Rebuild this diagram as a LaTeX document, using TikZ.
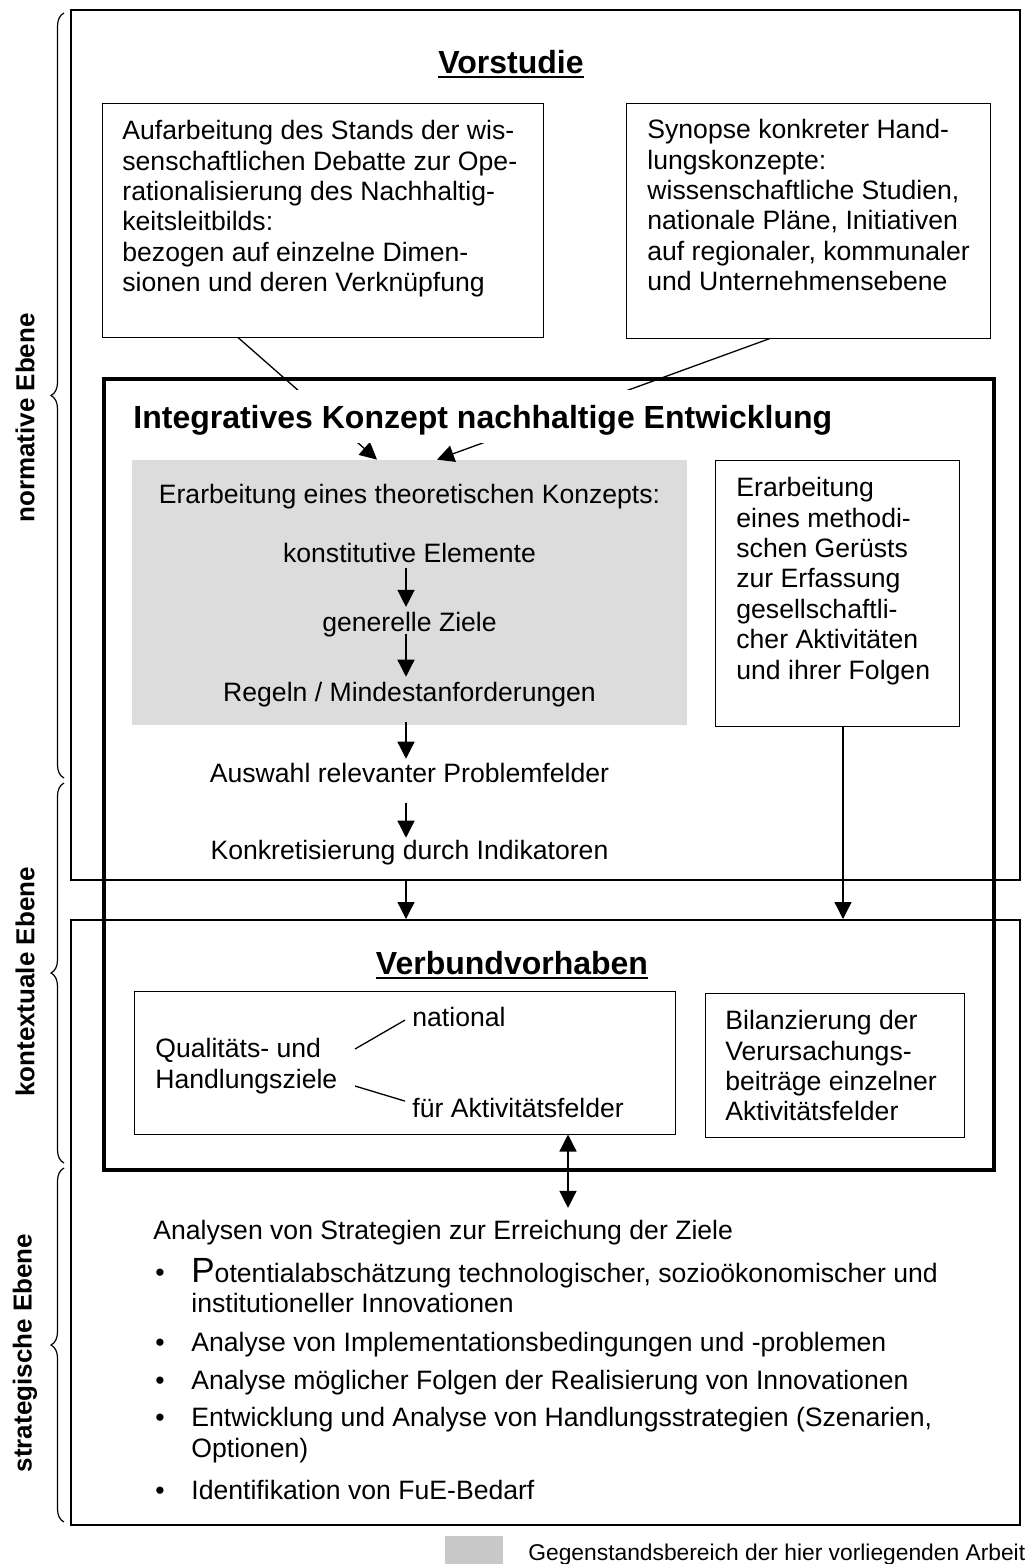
\documentclass[tikz,border=0pt]{standalone}
\usepackage{fontspec}
\setmainfont{Liberation Sans}
\usetikzlibrary{arrows.meta,fit,decorations.pathreplacing,calc}
\definecolor{grayfill}{RGB}{220,220,220}
\definecolor{legfill}{RGB}{200,200,200}
\newcommand\fbody{\fontsize{13.3}{15.2}\selectfont}
\newcommand\ftitle{\bfseries\fontsize{16}{19}\selectfont}
\newcommand\fside{\bfseries\fontsize{13}{15}\selectfont}
\newcommand\flegend{\fontsize{11.4}{14}\selectfont}
\tikzset{
  box/.style={draw, line width=0.5pt, inner sep=0pt},
  bigbox/.style={draw, line width=1pt, inner sep=0pt},
  thickbox/.style={draw, line width=1.6pt, inner sep=0pt},
  txt/.style={inner sep=0pt, font=\fbody, align=left},
  ttl/.style={inner sep=0pt, font=\ftitle},
  side/.style={inner sep=0pt, font=\fside, rotate=90},
  arr/.style={line width=0.65pt, -{Triangle[length=8.5pt,width=8.5pt]}},
  arrtwo/.style={line width=0.65pt, {Triangle[length=8.5pt,width=8.5pt]}-{Triangle[length=8.5pt,width=8.5pt]}},
  conn/.style={line width=0.65pt},
  bracestyle/.style={line width=0.6pt, decorate, decoration={brace, amplitude=6.5pt}},
}
\begin{document}
\begin{tikzpicture}[x=0.5pt,y=-0.5pt]
\useasboundingbox (0,0) rectangle (1024,1564);
\fill[white] (0,0) rectangle (1024,1564);

% main frames
\node[fit={(71,10)(1020,880)}, bigbox] (vor) {};
\node[fit={(71,920)(1020,1525)}, bigbox] (low) {};
\node[fit={(132,460)(687,725)}, fill=grayfill, inner sep=0pt] (gray) {};
\node[fit={(104,379)(994,1170)}, thickbox] (integ) {};

% inner boxes
\node[fit={(102,103)(543,337)}, box] (aufb) {};
\node[fit={(626,103)(990,338)}, box] (syn) {};
\node[fit={(715,460)(959,726)}, box] (meth) {};
\node[fit={(134,991)(675,1134)}, box] (qual) {};
\node[fit={(705,993)(964,1137)}, box] (bil) {};

% helper x positions
\coordinate (xa) at (238,0);
\coordinate (xb) at (377,0);
\coordinate (xc) at (770,0);
\coordinate (xd) at (437,0);
\coordinate (xarr) at (406,0);
\coordinate (xmeth) at (843,0);
\coordinate (xdbl) at (568,0);

% connectors from Vorstudie boxes (drawn before title so the title masks them)
\draw[arr] (aufb.south -| xa) -- (gray.north -| xb);
\draw[arr] (syn.south -| xc) -- (gray.north -| xd);

% titles
\node[ttl, anchor=base] (vst) at (511,73.5) {Vorstudie};
\draw[line width=1pt] ([yshift=-1.75pt]vst.base west) -- ([yshift=-1.75pt]vst.base east);
\node[ttl, anchor=base west, fill=white, text height=19.25pt, text depth=7.25pt] (ititle) at (133,428.5) {Integratives Konzept nachhaltige Entwicklung};
\node[ttl, anchor=base] (vbt) at (512,974.5) {Verbundvorhaben};
\draw[line width=1pt] ([yshift=-1.75pt]vbt.base west) -- ([yshift=-1.75pt]vbt.base east);

% Vorstudie box texts (base = baseline of last line)
\node[txt, anchor=base west] (aufbt) at (122,291.6) {Aufarbeitung des Stands der wis-\\senschaftlichen Debatte zur Ope-\\rationalisierung des Nachhaltig-\\keitsleitbilds:\\bezogen auf einzelne Dimen-\\sionen und deren Verknüpfung};
\node[txt, anchor=base west] (synt) at (647,290.6) {Synopse konkreter Hand-\\lungskonzepte:\\wissenschaftliche Studien,\\nationale Pläne, Initiativen\\auf regionaler, kommunaler\\und Unternehmensebene};

% gray region texts
\node[txt, anchor=base] (theo) at (409.5,503.6) {Erarbeitung eines theoretischen Konzepts:};
\node[txt, anchor=base] (konst) at (409.5,562.6) {konstitutive Elemente};
\node[txt, anchor=base] (gen) at (409.5,631.6) {generelle Ziele};
\node[txt, anchor=base] (regeln) at (409.5,701.6) {Regeln / Mindestanforderungen};
\node[txt, anchor=base] (ausw) at (409.5,782.6) {Auswahl relevanter Problemfelder};
\node[txt, anchor=base] (konk) at (409.5,859.6) {Konkretisierung durch Indikatoren};

\node[txt, anchor=base west] (metht) at (736,679) {Erarbeitung\\eines methodi-\\schen Gerüsts\\zur Erfassung\\gesellschaftli-\\cher Aktivitäten\\und ihrer Folgen};

% arrows of the chain
\draw[arr, shorten <=2.2pt, shorten >=2.5pt] (konst.south -| xarr) -- (gen.north -| xarr);
\draw[arr, shorten <=-2pt, shorten >=2.6pt] (gen.south -| xarr) -- (regeln.north -| xarr);
\draw[arr, shorten <=7.4pt, shorten >=2.1pt] (regeln.south -| xarr) -- (ausw.north -| xarr);
\draw[arr, shorten <=9.7pt, shorten >=1.1pt] (ausw.south -| xarr) -- (konk.north -| xarr);
\draw[arr] (vor.south -| xarr) -- (low.north -| xarr);
\draw[arr] (meth.south -| xmeth) -- (low.north -| xmeth);

% Verbundvorhaben contents
\node[txt, anchor=base west] (qt) at (155,1088) {Qualitäts- und\\Handlungsziele};
\node[txt, anchor=base west] (nat) at (412,1026.6) {national};
\node[txt, anchor=base west] (fuer) at (412,1117.6) {für Aktivitätsfelder};
\coordinate (q1) at (355,1049);
\coordinate (q2) at (355,1086);
\draw[conn] (q1) -- ([shift={(-7,3)}]nat.west);
\draw[conn] (q2) -- ([shift={(-7,-7)}]fuer.west);
\node[txt, anchor=base west] (bilt) at (725,1120.8) {Bilanzierung der\\Verursachungs-\\beiträge einzelner\\Aktivitätsfelder};

% strategic level
\node[txt, anchor=base west] (ana) at (153,1239.6) {Analysen von Strategien zur Erreichung der Ziele};
\draw[arrtwo, shorten >=6pt] (qual.south -| xdbl) -- (ana.north -| xdbl);

\node[txt, anchor=base] (b1) at (160,1281.6) {\textbullet};
\node[txt, anchor=base west] (i1) at (191,1312.6) {{\fontsize{17.5}{15}\selectfont P}otentialabschätzung technologischer, sozioökonomischer und\\institutioneller Innovationen};
\node[txt, anchor=base] (b2) at (160,1351.6) {\textbullet};
\node[txt, anchor=base west] (i2) at (191,1351.6) {Analyse von Implementationsbedingungen und -problemen};
\node[txt, anchor=base] (b3) at (160,1389.6) {\textbullet};
\node[txt, anchor=base west] (i3) at (191,1389.6) {Analyse möglicher Folgen der Realisierung von Innovationen};
\node[txt, anchor=base] (b4) at (160,1426.6) {\textbullet};
\node[txt, anchor=base west] (i4) at (191,1457) {Entwicklung und Analyse von Handlungsstrategien (Szenarien,\\Optionen)};
\node[txt, anchor=base] (b5) at (160,1499.6) {\textbullet};
\node[txt, anchor=base west] (i5) at (191,1499.6) {Identifikation von FuE-Bedarf};

% side braces and labels
\draw[bracestyle] (64,778) -- (64,13);
\draw[bracestyle] (64,1163) -- (64,783);
\draw[bracestyle] (64,1522) -- (64,1168);
\node[side] (lnorm) at (25,418) {normative Ebene};
\node[side] (lkont) at (25,982) {kontextuale Ebene};
\node[side] (lstrat) at (25,1353) {strategische Ebene};

% legend
\node[fit={(445,1536)(503,1570)}, fill=legfill, inner sep=0pt] (leg) {};
\node[anchor=base west, inner sep=0pt, font=\flegend] (legt) at (528,1560.4) {Gegenstandsbereich der hier vorliegenden Arbeit};
\end{tikzpicture}
\end{document}
